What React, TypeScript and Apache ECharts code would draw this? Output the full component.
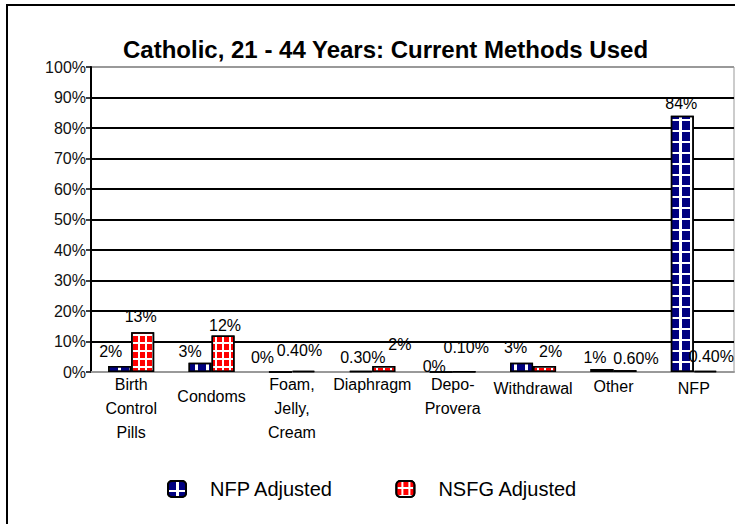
import React, { useEffect, useRef } from "react";
import * as echarts from "echarts";

const categories = [
  "Birth\nControl\nPills",
  "Condoms",
  "Foam,\nJelly,\nCream",
  "Diaphragm",
  "Depo-\nProvera",
  "Withdrawal",
  "Other",
  "NFP",
];
const nfpAdjusted = [2, 3, 0, 0.3, 0, 3, 1, 84];
const nsfgAdjusted = [13, 12, 0.4, 2, 0.1, 2, 0.6, 0.4];
const seriesNames = ["NFP Adjusted", "NSFG Adjusted"];
const yTicks = [0, 10, 20, 30, 40, 50, 60, 70, 80, 90, 100];

// style only: extra top padding for the category labels
const labelPadTop = [0, 24, 0, 0, 0, 8, 4, 8];
// style only: data-label nudges (px) to mimic the reference placement
const nfpLabelDx = [-9, -10, -18, 2, -7, -6, -7, -1];
const nfpLabelDy = [-1, 2, -1, 0, 8, -2, 2, 1];
const nsfgLabelDx = [-2, 2, -4, 16, 2, 6, 11, 6];
const nsfgLabelDy = [-3, 3, -7, -8, -11, -1, 1, -1];

const FONT = "'Liberation Sans', Arial, sans-serif";

function fmt(v: number): string {
  if (v === 0) return "0%";
  if (v < 1) return v.toFixed(2) + "%";
  return v + "%";
}

function withOffsets(values: number[], dx: number[], dy: number[]) {
  return values.map((v, i) => ({ value: v, label: { offset: [dx[i], dy[i]] } }));
}

export default function App() {
  const ref = useRef<HTMLDivElement>(null);
  useEffect(() => {
    if (!ref.current) return;
    const chart = echarts.init(ref.current, null, { renderer: "svg" });
    const rich: any = {};
    Array.from(new Set(labelPadTop)).forEach((p) => {
      rich["p" + p] = {
        fontFamily: FONT,
        fontSize: 16,
        color: "#000",
        lineHeight: 24,
        padding: [p, 0, 0, 0],
      };
    });
    const splitColors = yTicks.map((t) => (t === 0 || t === 100 ? "#999" : "#000"));
    const barCommon = {
      type: "bar",
      barWidth: 23,
      barGap: "0%",
      label: {
        show: true,
        position: "top",
        distance: 5,
        fontFamily: FONT,
        fontSize: 16,
        color: "#000",
        formatter: (p: any) => fmt(p.value),
      },
    };
    chart.setOption({
      animation: false,
      backgroundColor: "#fff",
      title: {
        text: "Catholic, 21 - 44 Years: Current Methods Used",
        left: 118,
        top: 32,
        textStyle: { fontFamily: FONT, fontSize: 24, fontWeight: "bold", color: "#000" },
      },
      graphic: [
        {
          type: "rect",
          shape: { x: 7, y: 5, width: 800, height: 600 },
          style: { fill: "none", stroke: "#000", lineWidth: 2 },
          silent: true,
        },
      ],
      legend: {
        data: seriesNames,
        left: 167,
        top: 479,
        padding: 0,
        itemWidth: 18,
        itemHeight: 16,
        itemGap: 62,
        textStyle: {
          fontFamily: FONT,
          fontSize: 20,
          color: "#000",
          rich: {
            t: { fontFamily: FONT, fontSize: 20, color: "#000", padding: [0, 0, 0, 19] },
          },
        },
        formatter: (name: string) => `{t|${name}}`,
      },
      grid: {
        left: 91,
        top: 67,
        right: 1,
        bottom: 152,
        show: true,
        borderColor: "#999",
        borderWidth: 1,
        backgroundColor: "transparent",
      },
      xAxis: {
        type: "category",
        data: categories,
        axisLine: { show: true, lineStyle: { color: "#999", width: 2 } },
        axisTick: { show: false },
        axisLabel: {
          interval: 0,
          margin: 0,
          formatter: (v: string, i: number) => {
            const key = "p" + labelPadTop[i];
            return v
              .split("\n")
              .map((l) => `{${key}|${l}}`)
              .join("\n");
          },
          rich,
        },
      },
      yAxis: {
        type: "value",
        min: 0,
        max: 100,
        interval: 10,
        axisLine: { show: true, lineStyle: { color: "#000", width: 2 } },
        axisTick: { show: true, length: 5, lineStyle: { color: "#000", width: 1.5 } },
        axisLabel: {
          formatter: "{value}%",
          fontFamily: FONT,
          fontSize: 16,
          color: "#111",
          margin: 5,
        },
        splitLine: { show: true, lineStyle: { color: splitColors, width: 2 } },
      },
      series: [
        {
          ...barCommon,
          name: seriesNames[0],
          data: withOffsets(nfpAdjusted, nfpLabelDx, nfpLabelDy),
          itemStyle: {
            color: "#fff",
            borderColor: "#000",
            borderWidth: 1.5,
            decal: {
              symbol: "rect",
              symbolSize: 1,
              symbolKeepAspect: false,
              color: "#000080",
              dashArrayX: [8, 3],
              dashArrayY: [9, 2],
              rotation: 0,
            },
          },
        },
        {
          ...barCommon,
          name: seriesNames[1],
          data: withOffsets(nsfgAdjusted, nsfgLabelDx, nsfgLabelDy),
          itemStyle: {
            color: "#fff",
            borderColor: "#000",
            borderWidth: 1.5,
            decal: {
              symbol: "rect",
              symbolSize: 1,
              symbolKeepAspect: false,
              color: "#ff0000",
              dashArrayX: [5, 2],
              dashArrayY: [6, 2],
              rotation: 0,
            },
          },
        },
      ],
    } as any);
    return () => chart.dispose();
  }, []);
  return (
    <div
      ref={ref}
      style={{ position: "absolute", left: 0, top: 0, width: 735, height: 524 }}
    />
  );
}
